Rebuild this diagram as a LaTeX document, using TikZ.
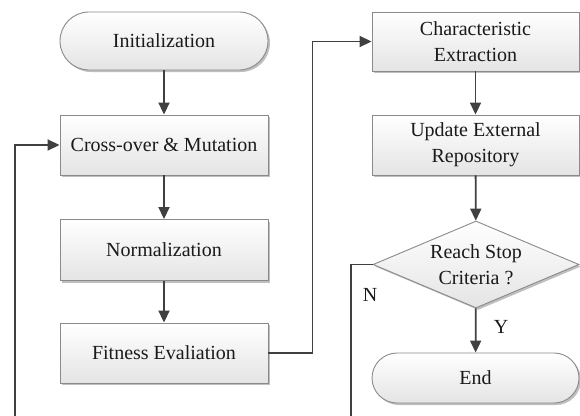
\documentclass[tikz,border=0pt]{standalone}
\usepackage{fontspec}
\setmainfont{Liberation Serif}
\usetikzlibrary{arrows.meta,shapes.geometric,shadows}
\definecolor{linecol}{HTML}{404040}
\definecolor{boxcol}{HTML}{8A8A8A}
\definecolor{botfill}{HTML}{E4E4E4}
\definecolor{txtcol}{HTML}{1A1A1A}
\tikzset{
  base/.style={draw=boxcol, line width=0.9pt, top color=white, bottom color=botfill,
    text=txtcol, font=\fontsize{20}{26}\selectfont, align=center, inner sep=0pt,
    drop shadow={shadow xshift=2pt, shadow yshift=-2pt, opacity=0.25, fill=black}},
  procbox/.style={base, rectangle, minimum width=208pt, minimum height=60pt},
  termbox/.style={base, rectangle, minimum width=208pt},
  decbox/.style={base, diamond, aspect=2.37, minimum width=206pt, minimum height=87pt},
  conn/.style={draw=linecol, line width=1.8pt, -{Triangle[width=11pt,length=12pt]}},
  plainconn/.style={draw=linecol, line width=1.8pt},
  lbl/.style={text=txtcol, font=\fontsize{20}{24}\selectfont, inner sep=0pt}
}
\begin{document}
\begin{tikzpicture}[x=1pt,y=-1pt]
\useasboundingbox (0,0) rectangle (580,415);
\node[termbox, minimum height=58pt, rounded corners=29pt] (init) at (164,41) {Initialization};
\node[procbox] (cross) at (164,145) {Cross-over \& Mutation};
\node[procbox, minimum height=61pt] (norm) at (164,250) {Normalization};
\node[procbox] (fit) at (164,353) {Fitness Evaliation};
\node[procbox, minimum width=207pt, minimum height=59pt] (char) at (475.5,41.5) {Characteristic\\Extraction};
\node[procbox, minimum width=207pt] (upd) at (475.5,145) {Update External\\Repository};
\node[decbox] (dec) at (476,264.5) {Reach Stop\\Criteria ?};
\node[termbox, minimum width=207pt, minimum height=50pt, rounded corners=25pt] (end) at (475.5,378) {End};
\coordinate (lb) at (15,416);
\coordinate (nb) at (351,416);
\draw[conn] (init) -- (cross);
\draw[conn] (cross) -- (norm);
\draw[conn] (norm) -- (fit);
\draw[conn] (fit.east) -- ++(44,0) |- (char.west);
\draw[conn] (lb) |- (cross.west);
\draw[conn] (char) -- (upd);
\draw[conn] (upd) -- (dec);
\draw[conn] (dec) -- (end);
\draw[plainconn] (dec.west) -| (nb);
\node[lbl] (nlab) at (370,295) {N};
\node[lbl] (ylab) at (501,327) {Y};
\end{tikzpicture}
\end{document}
